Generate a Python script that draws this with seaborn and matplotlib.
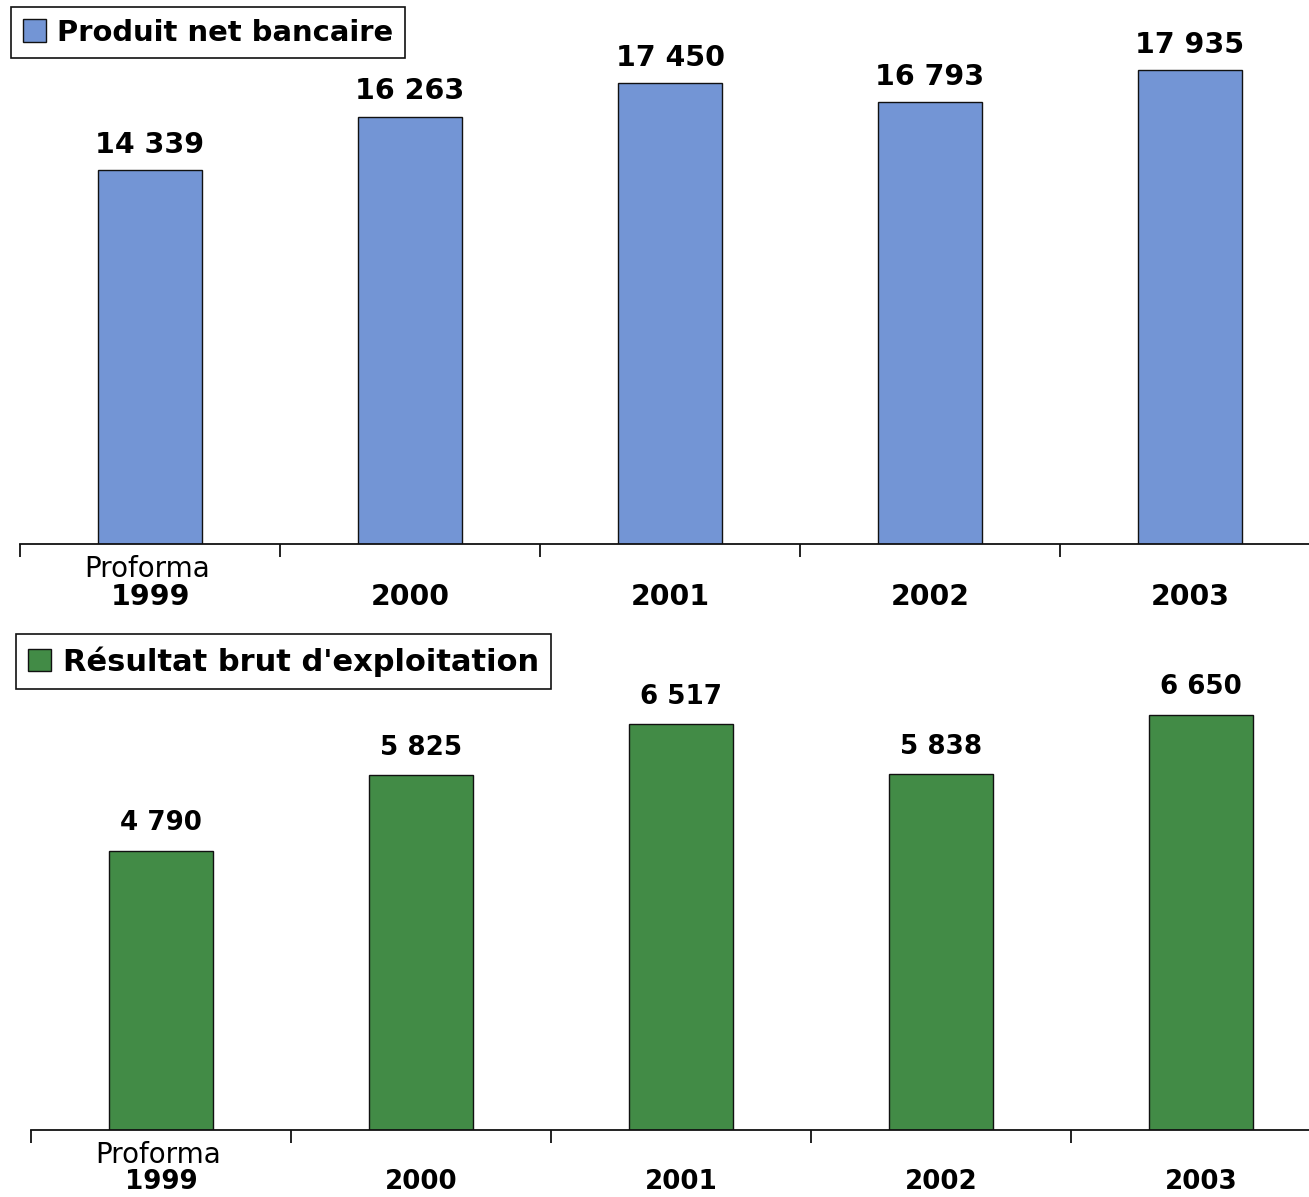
import matplotlib
matplotlib.use("Agg")
import matplotlib.pyplot as plt
from matplotlib.patches import Patch
import seaborn as sns
import pandas as pd

# Données (millions d'euros)
annees = ["1999", "2000", "2001", "2002", "2003"]
pnb = [14339, 16263, 17450, 16793, 17935]
rbe = [4790, 5825, 6517, 5838, 6650]
titre_pnb = "Produit net bancaire"
titre_rbe = "Résultat brut d'exploitation"
note_1999 = "Proforma"

BLEU = "#7395d5"
VERT = "#428b46"

sns.set_style("white")
plt.rcParams["font.family"] = ["DejaVu Sans"]
plt.rcParams["text.color"] = "black"
plt.rcParams["xtick.color"] = "black"
plt.rcParams["xtick.labelcolor"] = "black"


def fmt(v):
    return f"{v:,}".replace(",", " ")


def panneau(ax, valeurs, couleur, titre, ylim, fs_val, fs_an, pad_val, leg_pos, fs_leg, hl):
    df = pd.DataFrame({"annee": annees, "valeur": valeurs})
    sns.barplot(data=df, x="annee", y="valeur", order=annees, color=couleur,
                width=0.4, edgecolor="#111111", linewidth=1.0, saturation=1, ax=ax)
    ax.set_xlim(-0.5, 4.5)
    ax.set_ylim(*ylim)
    ax.set_xlabel("")
    ax.set_ylabel("")
    ax.set_yticks([])
    for s in ["top", "right", "left"]:
        ax.spines[s].set_visible(False)
    ax.spines["bottom"].set_color("#111111")
    ax.spines["bottom"].set_linewidth(1.3)

    # graduations entre catégories
    ax.set_xticks([i - 0.5 for i in range(len(annees) + 1)], minor=True)
    ax.tick_params(axis="x", which="minor", bottom=True, length=9, width=1.3,
                   color="#111111", direction="out")
    ax.set_xticks(range(len(annees)))
    ax.set_xticklabels(annees, fontsize=fs_an, fontweight="bold", color="black")
    ax.tick_params(axis="x", which="major", bottom=True, length=0, pad=28)

    ax.annotate(note_1999, xy=(0, 0), xycoords=("data", "axes fraction"),
                xytext=(-2, -8), textcoords="offset points",
                ha="center", va="top", fontsize=20, color="black")

    for cont in ax.containers:
        ax.bar_label(cont, labels=[fmt(v) for v in valeurs], padding=pad_val,
                     fontsize=fs_val, fontweight="bold", color="black")

    leg = ax.legend(handles=[Patch(facecolor=couleur, edgecolor="#111111", linewidth=1.0)],
                    labels=[titre], loc="upper left", bbox_to_anchor=leg_pos,
                    bbox_transform=ax.figure.transFigure, borderaxespad=0,
                    frameon=True, fancybox=False, framealpha=1,
                    edgecolor="#111111", borderpad=0.4, handlelength=hl,
                    handleheight=hl, handletextpad=0.38,
                    prop={"size": fs_leg, "weight": "bold"})
    leg.get_frame().set_linewidth(1.2)
    for t in leg.get_texts():
        t.set_color("black")


W, H = 1309, 1197
fig = plt.figure(figsize=(W / 100, H / 100), dpi=100)
fig.patch.set_facecolor("white")

ax1 = fig.add_axes([20 / W, 1 - 544 / H, 1300 / W, 534 / H])
ax2 = fig.add_axes([31 / W, 1 - 1130 / H, 1300 / W, 514 / H])

panneau(ax1, pnb, BLEU, titre_pnb, (890, 20093), 20.5, 20.4, 8,
        (11 / W, 1 - 7 / H), 20.9, 0.8)
panneau(ax2, rbe, VERT, titre_rbe, (974, 8000), 18.8, 18.8, 10.5,
        (16 / W, 1 - 634 / H), 22.0, 0.75)

fig.savefig("out.png", dpi=100, facecolor="white")
